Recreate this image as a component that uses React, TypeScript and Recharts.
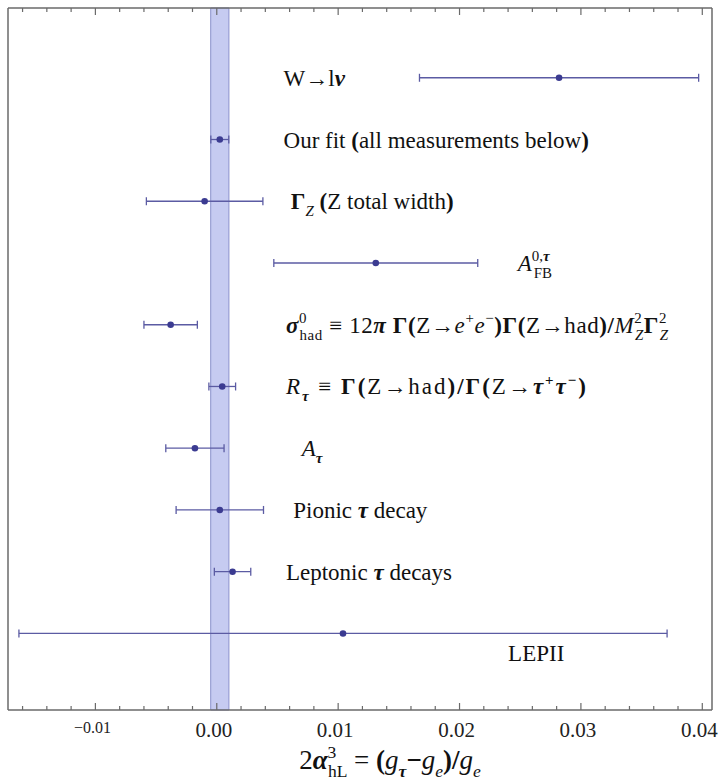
import React from 'react';
import {
  ScatterChart,
  Scatter,
  XAxis,
  YAxis,
  ErrorBar,
  ReferenceArea,
  Label
} from 'recharts';

// measurements, one row each, top to bottom
const rows = [0, 1, 2, 3, 4, 5, 6, 7, 8, 9];
const centers = [0.0282, 0.00025, -0.001, 0.0131, -0.0038, 0.00045, -0.0018, 0.00025, 0.0013, 0.0104];
const errors = [0.0115, 0.00074, 0.0048, 0.0084, 0.0022, 0.0011, 0.0024, 0.0036, 0.0015, 0.0267];

// where each text label starts (x in data units) and its row
const labelX = [0.0055, 0.0055, 0.0061, 0.0248, 0.0057, 0.0057, 0.007, 0.0063, 0.0057, 0.024];
const labelRow = [0, 1, 2, 3, 4, 5, 6, 7, 8, 9.31];
// stretch for the long formulas (px), 0 = natural width
const labelWidth = [0, 0, 0, 0, 382, 300, 0, 0, 0, 0];

// fit band
const bandLow = -0.0005;
const bandHigh = 0.001;

const majorTicks = [-0.01, 0, 0.01, 0.02, 0.03, 0.04];
const xDomain = [-0.0172, 0.0408];
const yDomain = [-1.13, 10.24];

const minorTicks: number[] = [];
for (let i = -8; i <= 20; i++) minorTicks.push(Math.round(i * 2) / 1000);

const FONT = '"Liberation Serif", "Times New Roman", serif';
const POINT = '#3b3b91';
const LINE = '#5b5ba3';
const FRAME = '#6a6a6a';

type Seg = { t: string; b?: boolean; i?: boolean; s?: 'sup' | 'sub'; dx?: number };

const Rich = ({ x, y, segs, size, anchor, width }: { x: number; y: number; segs: Seg[]; size: number; anchor?: string; width?: number }) => {
  let shift = 0;
  return (
    <text
      x={x}
      y={y}
      fontSize={size}
      fontFamily={FONT}
      fill="#111"
      textAnchor={anchor || 'start'}
      textLength={width || undefined}
      lengthAdjust={width ? 'spacing' : undefined}
    >
      {segs.map((s, k) => {
        const target = s.s === 'sup' ? -0.42 * size : s.s === 'sub' ? 0.3 * size : 0;
        const dy = target - shift;
        shift = target;
        return (
          <tspan
            key={k}
            dy={dy}
            dx={s.dx}
            fontWeight={s.b ? 'bold' : 'normal'}
            fontStyle={s.i ? 'italic' : 'normal'}
            fontSize={s.s ? size * 0.65 : size}
          >
            {s.t}
          </tspan>
        );
      })}
    </text>
  );
};

const labelSegs: Seg[][] = [
  [{ t: 'W' }, { t: '→', b: true }, { t: 'l' }, { t: 'ν', b: true, i: true }],
  [{ t: 'Our fit ' }, { t: '(', b: true }, { t: 'all measurements below' }, { t: ')', b: true }],
  [{ t: 'Γ', b: true }, { t: 'Z', i: true, s: 'sub' }, { t: ' ' }, { t: '(', b: true }, { t: 'Z total width' }, { t: ')', b: true }],
  [{ t: 'A', i: true }, { t: '0,', s: 'sup' }, { t: 'τ', s: 'sup', b: true, i: true }, { t: 'FB', s: 'sub', dx: -16 }],
  [
    { t: 'σ', b: true, i: true }, { t: '0', s: 'sup' }, { t: 'had', s: 'sub', dx: -7.5 },
    { t: ' ≡ 12' }, { t: 'π', b: true, i: true }, { t: ' ' }, { t: 'Γ(', b: true }, { t: 'Z' }, { t: '→', b: true },
    { t: 'e', i: true }, { t: '+', s: 'sup' }, { t: 'e', i: true }, { t: '−', s: 'sup' }, { t: ')Γ(', b: true },
    { t: 'Z' }, { t: '→' }, { t: 'had' }, { t: ')/', b: true }, { t: 'M', i: true }, { t: '2', s: 'sup' },
    { t: 'Z', s: 'sub', i: true, dx: -7.5 }, { t: 'Γ', b: true }, { t: '2', s: 'sup' }, { t: 'Z', s: 'sub', i: true, dx: -7.5 }
  ],
  [
    { t: 'R', i: true }, { t: 'τ', s: 'sub', b: true, i: true }, { t: ' ≡ ' }, { t: 'Γ(', b: true }, { t: 'Z' },
    { t: '→' }, { t: 'had' }, { t: ')/Γ(', b: true }, { t: 'Z' }, { t: '→', b: true }, { t: 'τ', b: true, i: true },
    { t: '+', s: 'sup', b: true }, { t: 'τ', b: true, i: true }, { t: '−', s: 'sup', b: true }, { t: ')', b: true }
  ],
  [{ t: 'A', i: true }, { t: 'τ', s: 'sub', b: true, i: true }],
  [{ t: 'Pionic ' }, { t: 'τ', b: true, i: true }, { t: ' decay' }],
  [{ t: 'Leptonic ' }, { t: 'τ', b: true, i: true }, { t: ' decays' }],
  [{ t: 'LEPII' }]
];

const axisSegs: Seg[] = [
  { t: '2' }, { t: 'α', b: true, i: true }, { t: '3', s: 'sup' }, { t: 'hL', s: 'sub', dx: -8.5 }, { t: ' = ' },
  { t: '(', b: true }, { t: 'g', i: true }, { t: 'τ', s: 'sub', b: true, i: true }, { t: '−', b: true },
  { t: 'g', i: true }, { t: 'e', s: 'sub', i: true }, { t: ')/', b: true }, { t: 'g', i: true }, { t: 'e', s: 'sub', i: true }
];

const points = rows.map((r, i) => ({ x: centers[i], y: r, err: errors[i] }));
const labels = labelX.map((x, i) => ({ x, y: labelRow[i], id: i }));

const isMajor = (v: number) => majorTicks.some((m) => Math.abs(m - v) < 1e-9);

const BottomTick = (props: any) => {
  const { x, y, payload } = props;
  const v = payload.value;
  const major = isMajor(v);
  const small = Math.abs(v + 0.01) < 1e-9;
  return (
    <g>
      <line x1={x} x2={x} y1={y} y2={y - (major ? 7 : 4)} stroke={FRAME} strokeWidth={1.2} />
      {major && (
        <text
          x={x - 3}
          y={y + (small ? 23 : 27)}
          textAnchor="middle"
          fontFamily={FONT}
          fontSize={small ? 16 : 21}
          fill="#222"
        >
          {small ? '−0.01' : v.toFixed(2)}
        </text>
      )}
    </g>
  );
};

const TopTick = (props: any) => {
  const { x, y, payload } = props;
  const major = isMajor(payload.value);
  return <line x1={x} x2={x} y1={y} y2={y + (major ? 7 : 4)} stroke={FRAME} strokeWidth={1.2} />;
};

const renderPoint = (props: any) => (
  <circle cx={props.cx} cy={props.cy} r={3.3} fill={POINT} />
);

const renderLabel = (props: any) => {
  const id = props.payload.id;
  return <Rich x={props.cx} y={props.cy + 8} segs={labelSegs[id]} size={23} width={labelWidth[id]} />;
};

const renderAxisLabel = () => (
  <Rich x={390} y={769} segs={axisSegs} size={27} anchor="middle" />
);

export default function App() {
  return (
    <div style={{ position: 'absolute', left: 0, top: 0, background: '#fff', width: 720, height: 781 }}>
      <ScatterChart width={720} height={781} margin={{ top: 7, right: 7, bottom: 70, left: 7 }}>
        <XAxis
          xAxisId="b"
          type="number"
          dataKey="x"
          domain={xDomain}
          allowDataOverflow
          ticks={minorTicks}
          interval={0}
          tick={<BottomTick />}
          tickLine={false}
          tickSize={0}
          tickMargin={0}
          height={1}
          axisLine={{ stroke: FRAME, strokeWidth: 1.5 }}
        >
          <Label content={renderAxisLabel} />
        </XAxis>
        <XAxis
          xAxisId="t"
          orientation="top"
          type="number"
          dataKey="x"
          domain={xDomain}
          allowDataOverflow
          ticks={minorTicks}
          interval={0}
          tick={<TopTick />}
          tickLine={false}
          tickSize={0}
          tickMargin={0}
          height={1}
          axisLine={{ stroke: FRAME, strokeWidth: 1.5 }}
        />
        <YAxis
          yAxisId="l"
          type="number"
          dataKey="y"
          domain={yDomain}
          reversed
          allowDataOverflow
          tick={false}
          tickLine={false}
          width={1}
          axisLine={{ stroke: FRAME, strokeWidth: 1.5 }}
        />
        <YAxis
          yAxisId="r"
          orientation="right"
          type="number"
          dataKey="y"
          domain={yDomain}
          reversed
          allowDataOverflow
          tick={false}
          tickLine={false}
          width={1}
          axisLine={{ stroke: FRAME, strokeWidth: 1.5 }}
        />
        <ReferenceArea
          xAxisId="b"
          yAxisId="l"
          x1={bandLow}
          x2={bandHigh}
          y1={yDomain[0]}
          y2={yDomain[1]}
          fill="#c6cbf1"
          fillOpacity={1}
          stroke="#8b92cc"
          strokeWidth={1}
        />
        <Scatter xAxisId="b" yAxisId="l" data={points} shape={renderPoint} isAnimationActive={false}>
          <ErrorBar dataKey="err" direction="x" width={4} stroke={LINE} strokeWidth={1.3} isAnimationActive={false} />
        </Scatter>
        <Scatter xAxisId="b" yAxisId="l" data={labels} shape={renderLabel} isAnimationActive={false} />
      </ScatterChart>
    </div>
  );
}
